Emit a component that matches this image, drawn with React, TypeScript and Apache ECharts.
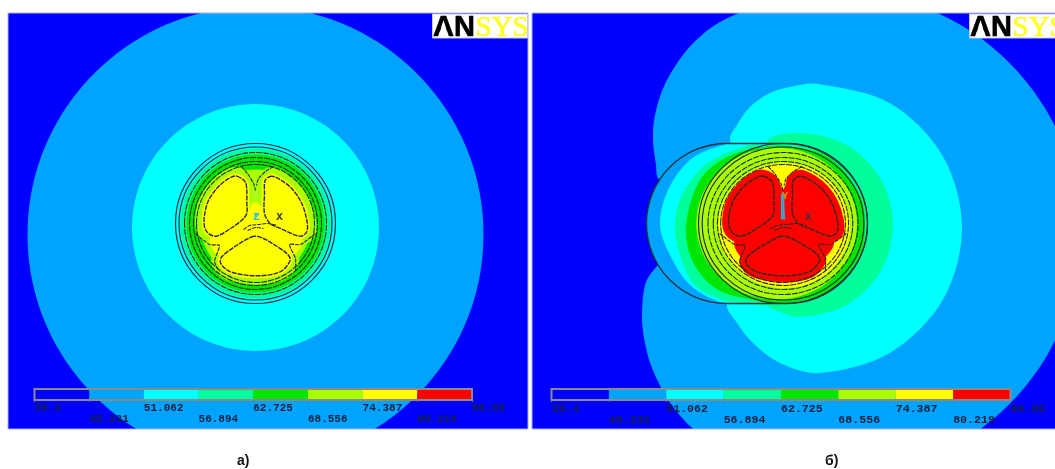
import React, { useEffect, useRef } from "react";
import * as echarts from "echarts";

const levels = [39.4, 45.231, 51.062, 56.894, 62.725, 68.556, 74.387, 80.219, 86.05];
const upperLabels = [39.4, 51.062, 62.725, 74.387, 86.05];
const lowerLabels = [45.231, 56.894, 68.556, 80.219];
const palette = ["#0000ff", "#00a4ff", "#00ffff", "#00ff9c", "#00e600", "#aaff00", "#ffff00", "#ff0000"];
const [BLUE, SKY, CYAN, SPRING, GREEN, LIME, YELLOW, RED] = palette;

// model units: cable axis at 0,0, y downwards
const leftLobe = [[-18.7,-47.3],[-10.3,-41.7],[-8.7,-33],[-8.7,-22],[-8.7,-10],[-13.7,-3.3],[-25,5],[-39,12.7],[-47,10],[-51,3.3],[-51,-8.3],[-47,-23],[-37,-37],[-25,-46]];
const rightLobe = [[16.3,-47.3],[9.7,-43.3],[9,-30],[9,-10],[14.7,0],[25,5],[44.7,12.7],[51.3,8.3],[51.3,-3.3],[46.3,-20],[38,-33],[28,-41.7]];
const lowerLobe = [[-1.3,12.7],[-10.3,16.7],[-22,24],[-33.7,33.3],[-34.7,40],[-25,48.3],[1.3,52.3],[24.7,48.3],[34.7,36.7],[31.3,30],[20,22],[8,15]];
const junctionA = [[-46,16],[-25,8],[-9,-8],[-3,-20],[3,-20],[9,-8],[25,8],[47,16],[36,32],[14,16],[0,11],[-14,16],[-36,32]];
const junctionB = [[-12,-50],[-4,-42],[0,-34],[4,-42],[12,-50],[14,0],[25,8],[48,18],[38,34],[14,24],[-14,24],[-38,34],[-46,18],[-25,8],[-14,0]];
const contourLines = [
  [[-14,-57],[-8,-50],[-2,-40],[0,-33]],
  [[18,-57],[10,-52],[3,-45],[1,-38]],
  [[-12,6],[-6,2],[3,1],[12,0],[22,2]],
  [[-8,7],[0,4],[8,5]],
  [[-60,10],[-46,21],[-36,22],[-41,38],[-36,48]],
  [[60,10],[45,21],[34,21],[40,35],[40,47]],
];
const ringRadii = [[0,0,80],[0,0,76.5]];
const dashedRadii = [[0,0,71],[0,0,66],[0,0,62],[0,0,59]];

const skyDiscA = [[0,11,228]];
const cyanDiscA = [[0,4,123.5]];
const springDiscA = [[0,0,75]];
const greenDiscA = [[0,0,69]];
const limeDiscA = [[0,1,55]];

const limeDiscB = [[-6,0,76]];
const yellowDiscB = [[1,2,62.5]];

// field units of panel b (picture scale)
const skyRegionB = [[838,-8.5],[900.6,-0.3],[959,24],[1009,62.4],[1047.6,112.5],[1071.8,170.9],[1080,233.5],[1071.8,296],[1047.6,354.5],[1009,404.6],[959,443],[900.6,467.3],[838,475.5],[760,465],[720,448.7],[693,429],[670,402.5],[652,368],[644,338],[642,313],[645,285],[652,272],[690,225],[658,178],[656,165],[653,140],[655,115],[665,84],[686,51],[712,27],[739,13],[775,1]];
const capsuleB = [[646.5,143.5,867.5,303.5]];
const cyanOuterB = [[818,84],[890,103.3],[942.7,156],[962,228],[942.7,300],[890,352.7],[820,373],[780,363],[753,343],[737,323],[727,304],[750,270],[770,225],[745,180],[730,140],[737,125],[750,107],[770,93],[790,87]];
const cyanInnerB = [[740,145],[717,147],[690,160],[668,190],[660,225],[670,255],[690,285],[720,302],[740,303],[790,225]];
const springOuterB = [[801,133],[847,145.3],[880.7,179],[893,225],[880.7,271],[847,304.7],[801,317],[780,312],[767,303],[790,225],[767,143]];
const springInnerB = [[760,146],[740,148],[705,165],[682,195],[675,225],[680,255],[695,285],[723,300],[745,303],[770,303],[800,225]];
const greenRegionB = [[787,146],[830,158],[860,195],[865,225],[860,255],[830,290],[787,303],[753,300],[715,288],[692,260],[686,225],[700,180],[725,158],[757,148]];

const triadMarksA = [[-1,-9],[2,-11],[-1,-4]];
const triadMarksB = [[-2,-30],[1,-30],[2,-4],[-2,-4]];
const triadTextsA = [["X",24,-7,"#333344"],["Y",0,-30,"#b4f050"],["Z",1,-7,"#33c0d8"]];
const triadTextsB = [["X",24,-7,"#333344"],["Y",2,-28,"#c8a000"]];

let zCounter = 1;
const nextZ = () => zCounter++;
const base = (xAxisIndex: number, yAxisIndex: number) => ({
  type: "custom" as const,
  xAxisIndex,
  yAxisIndex,
  clip: true,
  silent: true,
  animation: false,
  z: nextZ(),
});

function polygonSeries(x: number, y: number, pts: number[][], style: any, smooth = 0.33) {
  return {
    ...base(x, y),
    data: pts,
    renderItem: (params: any, api: any) =>
      params.dataIndex !== 0
        ? null
        : {
            type: "polygon",
            shape: { points: pts.map((p) => api.coord(p)), smooth },
            style: { lineJoin: "round", ...style },
          },
  };
}
function lineSeries(x: number, y: number, pts: number[][], style: any) {
  return {
    ...base(x, y),
    data: pts,
    renderItem: (params: any, api: any) =>
      params.dataIndex !== 0
        ? null
        : {
            type: "polyline",
            shape: { points: pts.map((p) => api.coord(p)), smooth: 0.2 },
            style: { fill: "none", ...style },
          },
  };
}
function discSeries(x: number, y: number, discs: number[][], style: any) {
  return {
    ...base(x, y),
    data: discs,
    renderItem: (params: any, api: any) => {
      const d = discs[params.dataIndex];
      const c = api.coord([d[0], d[1]]);
      const s = api.size([d[2], d[2]], [d[0], d[1]]);
      return { type: "ellipse", shape: { cx: c[0], cy: c[1], rx: s[0], ry: s[1] }, style };
    },
  };
}
function capsuleSeries(x: number, y: number, style: any) {
  return {
    ...base(x, y),
    data: capsuleB,
    renderItem: (_: any, api: any) => {
      const d = capsuleB[0];
      const a = api.coord([d[0], d[1]]);
      const b = api.coord([d[2], d[3]]);
      return {
        type: "rect",
        shape: { x: a[0], y: a[1], width: b[0] - a[0], height: b[1] - a[1], r: 80 },
        style,
      };
    },
  };
}
function textSeries(x: number, y: number, rows: any[]) {
  return {
    ...base(x, y),
    data: rows.map((r) => [r[1], r[2]]),
    renderItem: (params: any, api: any) => {
      const r = rows[params.dataIndex];
      const c = api.coord([r[1], r[2]]);
      return {
        type: "text",
        style: {
          x: c[0], y: c[1], text: r[0], fill: r[3],
          font: "bold 11px 'Liberation Mono'",
          textAlign: "center", textVerticalAlign: "middle",
        },
      };
    },
  };
}
function barSeries(x: number, y: number) {
  const rows = palette.map((_, i) => [levels[i], levels[i + 1], i]);
  return {
    type: "custom" as const,
    xAxisIndex: x,
    yAxisIndex: y,
    silent: true,
    z: 101,
    data: rows,
    renderItem: (params: any, api: any) => {
      const r = rows[params.dataIndex];
      const a = api.coord([r[0], 1]);
      const b = api.coord([r[1], 0]);
      return {
        type: "rect",
        shape: { x: a[0], y: a[1], width: b[0] - a[0], height: b[1] - a[1] },
        style: { fill: palette[r[2]] },
      };
    },
  };
}

const LINE = "#20303a";
function cableLines(x: number, y: number, marks: number[][], markColor: string, texts: any[]) {
  const lobe = { fill: "none", stroke: "#2a2a20", lineWidth: 1.4, lineDash: [5, 1] };
  return [
    polygonSeries(x, y, leftLobe, lobe),
    polygonSeries(x, y, rightLobe, lobe),
    polygonSeries(x, y, lowerLobe, lobe),
    ...contourLines.map((l) => lineSeries(x, y, l, { stroke: "#2a2a20", lineWidth: 1.1, lineDash: [4, 1] })),
    discSeries(x, y, ringRadii, { fill: "none", stroke: LINE, lineWidth: 1.2 }),
    discSeries(x, y, dashedRadii, { fill: "none", stroke: "#1e2e10", lineWidth: 1.1, lineDash: [6, 1] }),
    polygonSeries(x, y, marks, { fill: markColor }, 0),
    textSeries(x, y, texts),
  ];
}

function panelASeries() {
  const out: any[] = [];
  const X = 0, Y = 0;
  out.push(discSeries(X, Y, skyDiscA, { fill: SKY }));
  out.push(discSeries(X, Y, cyanDiscA, { fill: CYAN }));
  out.push(discSeries(X, Y, springDiscA, { fill: SPRING }));
  out.push(discSeries(X, Y, greenDiscA, { fill: GREEN }));
  out.push(discSeries(X, Y, limeDiscA, { fill: LIME }));
  for (const l of [leftLobe, rightLobe, lowerLobe]) {
    out.push(polygonSeries(X, Y, l, { fill: LIME, stroke: LIME, lineWidth: 18 }));
  }
  out.push(polygonSeries(X, Y, junctionA, { fill: YELLOW }));
  for (const l of [leftLobe, rightLobe, lowerLobe]) {
    out.push(polygonSeries(X, Y, l, { fill: YELLOW, stroke: YELLOW, lineWidth: 5 }));
  }
  out.push(...cableLines(X, Y, triadMarksA, "#33c0d8", triadTextsA));
  return out;
}
function panelBSeries() {
  const out: any[] = [];
  const FX = 1, FY = 1, MX = 2, MY = 2;
  out.push(polygonSeries(FX, FY, skyRegionB, { fill: SKY }));
  out.push(capsuleSeries(FX, FY, { fill: SKY }));
  out.push(polygonSeries(FX, FY, cyanOuterB, { fill: CYAN }));
  out.push(polygonSeries(FX, FY, cyanInnerB, { fill: CYAN }));
  out.push(polygonSeries(FX, FY, springOuterB, { fill: SPRING }));
  out.push(polygonSeries(FX, FY, springInnerB, { fill: SPRING }));
  out.push(polygonSeries(FX, FY, greenRegionB, { fill: GREEN }));
  out.push(discSeries(MX, MY, limeDiscB, { fill: LIME }));
  out.push(discSeries(MX, MY, yellowDiscB, { fill: YELLOW }));
  for (const l of [leftLobe, rightLobe, lowerLobe]) {
    out.push(polygonSeries(MX, MY, l, { fill: RED, stroke: RED, lineWidth: 13 }));
  }
  out.push(polygonSeries(MX, MY, junctionB, { fill: RED }));
  out.push(...cableLines(MX, MY, triadMarksB, "#40a0c0", triadTextsB));
  out.push(capsuleSeries(FX, FY, { fill: "none", stroke: LINE, lineWidth: 1.3 }));
  return out;
}

const hidden = (o: any) => ({ type: "value", show: false, scale: true, ...o });
const labelAxis = (gridIndex: number, values: number[], offset: number, fontSize: number) => ({
  type: "value",
  gridIndex,
  min: levels[0],
  max: levels[levels.length - 1],
  position: "bottom",
  offset,
  z: 103,
  axisLine: { show: false },
  splitLine: { show: false },
  axisTick: { show: offset === 0, customValues: levels, length: 2, lineStyle: { color: "#777" } },
  axisLabel: {
    customValues: values,
    formatter: (v: number) => String(v),
    align: "left",
    margin: 2,
    fontFamily: "Liberation Mono",
    fontWeight: "bold",
    fontSize,
    color: "#14203c",
    hideOverlap: false,
    showMinLabel: true,
    showMaxLabel: true,
  },
});

function logo(x: number, fontSize = 29) {
  return [
    { type: "rect", z: 200, shape: { x, y: 14, width: 95, height: 24 }, style: { fill: "#ffffff", stroke: "#c8c8e8", lineWidth: 1 } },
    { type: "text", z: 201, x: x + 0.5, y: 26, style: { text: "AN", fill: "#000000", stroke: "#000000", lineWidth: 0.7, font: `bold ${fontSize}px 'Liberation Sans'`, verticalAlign: "middle", textVerticalAlign: "middle" } },
    { type: "polygon", z: 202, shape: { points: [[x + 11, 21], [x + 5.5, 37.5], [x + 16.5, 37.5]] }, style: { fill: "#ffffff" } },
    { type: "text", z: 201, x: x + 43, y: 26, style: { text: "SYS", fill: "#ffff20", stroke: "#ffff20", lineWidth: 0.6, font: `${fontSize}px 'Liberation Serif'`, verticalAlign: "middle", textVerticalAlign: "middle" } },
  ];
}

export default function App() {
  const ref = useRef<HTMLDivElement>(null);
  useEffect(() => {
    const chart = echarts.init(ref.current!, undefined, { renderer: "svg" });
    zCounter = 1;
    const series = [
      ...panelASeries(),
      ...panelBSeries(),
      barSeries(3, 3),
      barSeries(5, 4),
    ];
    const caption = { fontFamily: "Liberation Sans", fontWeight: "bold", fontSize: 14, color: "#111" };
    chart.setOption({
      animation: false,
      backgroundColor: "#ffffff",
      title: [
        { text: "а)", left: 237, top: 453, padding: 0, textStyle: caption },
        { text: "б)", left: 825, top: 453, padding: 0, textStyle: caption },
      ],
      grid: [
        { left: 8, top: 13, width: 520, height: 416, show: true, backgroundColor: BLUE, borderWidth: 0, z: 0 },
        { left: 532, top: 13, width: 523, height: 416, show: true, backgroundColor: BLUE, borderWidth: 0, z: 0 },
        { left: 34.5, top: 389, width: 437.5, height: 11, show: true, borderColor: "#8a8a8a", borderWidth: 2, z: 102 },
        { left: 551.5, top: 389, width: 459, height: 11, show: true, borderColor: "#8a8a8a", borderWidth: 2, z: 102 },
      ],
      xAxis: [
        hidden({ gridIndex: 0, min: -247.5, max: 272.5 }),
        hidden({ gridIndex: 1, min: 532, max: 1055 }),
        hidden({ gridIndex: 1, min: -237.5, max: 257.3 }),
        labelAxis(2, upperLabels, 0, 11),
        labelAxis(2, lowerLabels, 11, 11),
        labelAxis(3, upperLabels, 0, 11.6),
        labelAxis(3, lowerLabels, 11, 11.6),
      ],
      yAxis: [
        hidden({ gridIndex: 0, min: -210.5, max: 205.5, inverse: true }),
        hidden({ gridIndex: 1, min: 13, max: 429, inverse: true }),
        hidden({ gridIndex: 1, min: -210.5, max: 205.5, inverse: true }),
        hidden({ gridIndex: 2, min: 0, max: 1 }),
        hidden({ gridIndex: 3, min: 0, max: 1 }),
      ],
      series,
      graphic: {
        elements: [
          { type: "rect", z: 190, shape: { x: 8, y: 13, width: 520, height: 416 }, style: { fill: "none", stroke: "#a8b4ff", lineWidth: 1 } },
          { type: "rect", z: 190, shape: { x: 532, y: 13, width: 530, height: 416 }, style: { fill: "none", stroke: "#a8b4ff", lineWidth: 1 } },
          ...logo(432.5),
          ...logo(969.5),
        ],
      },
    });
    return () => chart.dispose();
  }, []);
  return (
    <div
      ref={ref}
      style={{ position: "fixed", left: 0, top: 0, width: 1055, height: 469, background: "#fff", filter: "blur(0.6px)" }}
    />
  );
}
